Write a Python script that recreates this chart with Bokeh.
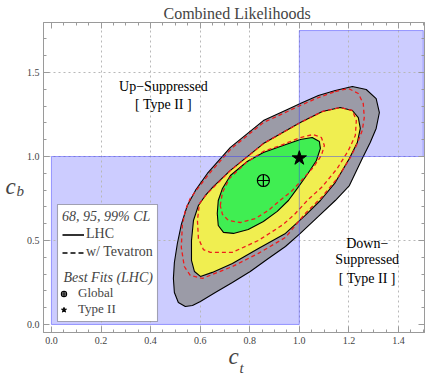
from bokeh.plotting import figure
from bokeh.models import (Range1d, LinearAxis, Label, BoxAnnotation, Legend, LegendItem,
                          SingleIntervalTicker, FixedTicker, PrintfTickFormatter,
                          CustomJSTickFormatter)
from bokeh.embed import file_html
from bokeh.resources import INLINE

SERIF = "Liberation Serif"

# ---------------- data ----------------
lhc99_ct = [0.540, 0.512, 0.496, 0.492, 0.496, 0.508, 0.524, 0.548, 0.581, 0.629, 0.722, 0.855,
            0.952, 1.004, 1.077, 1.145, 1.214, 1.270, 1.310, 1.323, 1.310, 1.286, 1.254, 1.202,
            1.145, 1.077, 1.004, 0.944, 0.875, 0.802, 0.730, 0.661, 0.601, 0.569]
lhc99_cb = [0.107, 0.131, 0.190, 0.274, 0.369, 0.482, 0.595, 0.708, 0.798, 0.899, 1.054, 1.214,
            1.280, 1.315, 1.363, 1.393, 1.417, 1.399, 1.345, 1.262, 1.167, 1.083, 0.988, 0.827,
            0.738, 0.643, 0.542, 0.464, 0.393, 0.315, 0.250, 0.190, 0.137, 0.113]
lhc95_ct = [0.601, 0.577, 0.565, 0.565, 0.573, 0.593, 0.621, 0.653, 0.722, 0.855, 1.004, 1.093,
            1.165, 1.214, 1.238, 1.246, 1.234, 1.202, 1.145, 1.085, 1.024, 0.944, 0.835, 0.730, 0.649]
lhc95_cb = [0.286, 0.315, 0.381, 0.500, 0.619, 0.708, 0.768, 0.821, 0.917, 1.077, 1.202, 1.268,
            1.292, 1.274, 1.232, 1.167, 1.083, 0.988, 0.845, 0.738, 0.649, 0.542, 0.452, 0.363, 0.310]
lhc68_ct = [0.669, 0.673, 0.690, 0.722, 0.790, 0.855, 0.923, 1.004, 1.052, 1.081, 1.085, 1.069,
            1.032, 0.992, 0.956, 0.911, 0.855, 0.794, 0.734, 0.694, 0.673]
lhc68_cb = [0.661, 0.738, 0.810, 0.887, 0.970, 1.024, 1.060, 1.101, 1.113, 1.089, 1.048, 0.976,
            0.893, 0.810, 0.738, 0.673, 0.613, 0.565, 0.542, 0.548, 0.589]
tev68_ct = [0.681, 0.690, 0.718, 0.786, 0.855, 0.923, 1.004, 1.056, 1.089, 1.101, 1.089, 1.056,
            1.016, 0.972, 0.927, 0.875, 0.823, 0.762, 0.714, 0.690]
tev68_cb = [0.708, 0.786, 0.869, 0.964, 1.030, 1.065, 1.113, 1.131, 1.113, 1.065, 1.006, 0.935,
            0.869, 0.798, 0.744, 0.679, 0.631, 0.607, 0.619, 0.655]
tev95_ct = [0.597, 0.625, 0.657, 0.722, 0.855, 1.004, 1.093, 1.165, 1.214, 1.230, 1.226, 1.198,
            1.153, 1.093, 1.036, 0.984, 0.935, 0.835, 0.730, 0.641, 0.613, 0.593, 0.589]
tev95_cb = [0.720, 0.774, 0.821, 0.917, 1.077, 1.202, 1.268, 1.292, 1.274, 1.214, 1.125, 1.036,
            0.929, 0.821, 0.744, 0.661, 0.595, 0.500, 0.429, 0.429, 0.446, 0.512, 0.619]
tev99_ct = [1.145, 1.198, 1.238, 1.258, 1.262, 1.254, 1.230, 1.206, 1.153, 1.093, 1.024, 0.944,
            0.835, 0.730, 0.609, 0.560, 0.536, 0.524, 0.528, 0.540, 0.560, 0.593, 0.637, 0.726,
            0.855, 0.952, 1.004, 1.077]
tev99_cb = [1.387, 1.405, 1.375, 1.315, 1.232, 1.155, 1.065, 0.994, 0.869, 0.762, 0.661, 0.518,
            0.423, 0.345, 0.274, 0.292, 0.345, 0.458, 0.589, 0.679, 0.750, 0.815, 0.899, 1.048,
            1.202, 1.268, 1.304, 1.351]
global_ct = [0.855]
global_cb = [0.857]
type2_ct = [1.0]
type2_cb = [0.99]
region_left = [0.0, 1.0]
region_right = [1.0, 1.5]
region_bottom = [0.0, 1.0]
region_top = [1.0, 1.75]
x_ticks = [0.2, 0.4, 0.6, 0.8, 1.0, 1.2, 1.4]
y_ticks = [0.5, 1.0, 1.5]


def closed(v):
    return list(v) + [v[0]]


p = figure(width=436, height=374, x_range=Range1d(-0.032, 1.505), y_range=Range1d(-0.048, 1.798),
           output_backend="svg", toolbar_location=None,
           min_border_left=43, min_border_right=12, min_border_top=22, min_border_bottom=42)
p.background_fill_color = "white"
p.border_fill_color = "white"
p.outline_line_color = "#9a9a9a"

p.title.text = "Combined Likelihoods"
p.title.align = "left"
p.title.offset = 120
p.title.text_font = SERIF
p.title.text_font_size = "16px"
p.title.text_font_style = "normal"
p.title.standoff = 2

p.xaxis.ticker = SingleIntervalTicker(interval=0.2, num_minor_ticks=4)
p.yaxis.ticker = SingleIntervalTicker(interval=0.5, num_minor_ticks=5)
p.xaxis.formatter = PrintfTickFormatter(format="%.1f")
p.yaxis.formatter = PrintfTickFormatter(format="%.1f")


def style_axis(ax, labels=True):
    ax.axis_line_color = "#9a9a9a"
    ax.major_tick_line_color = "#9a9a9a"
    ax.minor_tick_line_color = "#9a9a9a"
    ax.major_tick_in = 6
    ax.major_tick_out = 0
    ax.minor_tick_in = 3
    ax.minor_tick_out = 0
    ax.major_label_text_font = SERIF
    ax.major_label_text_font_size = "10px"
    ax.major_label_text_color = "#444444"
    ax.major_label_standoff = 4 if labels else 0


style_axis(p.xaxis[0])
style_axis(p.yaxis[0])

ax_top = LinearAxis(ticker=SingleIntervalTicker(interval=0.2, num_minor_ticks=4),
                    formatter=CustomJSTickFormatter(code="return ''"))
ax_right = LinearAxis(ticker=SingleIntervalTicker(interval=0.5, num_minor_ticks=5),
                      formatter=CustomJSTickFormatter(code="return ''"))
style_axis(ax_top, labels=False)
style_axis(ax_right, labels=False)
p.add_layout(ax_top, "above")
p.add_layout(ax_right, "right")

p.xgrid.ticker = FixedTicker(ticks=x_ticks)
p.ygrid.ticker = FixedTicker(ticks=y_ticks)
for g in (p.xgrid, p.ygrid):
    g.grid_line_color = "#b8b8b8"
    g.grid_line_dash = "2 3"
    g.grid_line_width = 1

p.quad(left=region_left, right=region_right, bottom=region_bottom, top=region_top,
       fill_color="#ccccff", line_color=None, level="image")

p.patch(closed(lhc99_ct), closed(lhc99_cb), fill_color="#9b9ba7", line_color="black", line_width=1.1)
p.patch(closed(lhc95_ct), closed(lhc95_cb), fill_color="#f0ee50", line_color="black", line_width=1.1)
p.patch(closed(lhc68_ct), closed(lhc68_cb), fill_color="#40ee52", line_color="black", line_width=1.1)

for cx, cy in ((tev99_ct, tev99_cb), (tev95_ct, tev95_cb), (tev68_ct, tev68_cb)):
    p.line(closed(cx), closed(cy), line_color="#ee1c1c", line_dash="4 3", line_width=1.3)

p.quad(left=region_left, right=region_right, bottom=region_bottom, top=region_top,
       fill_alpha=0, line_color="#3333ff", line_alpha=0.45, line_width=1)

r_global = p.scatter(global_ct, global_cb, marker="circle_cross", size=12,
                     fill_color=None, line_color="black", line_width=1.2)
r_type2 = p.scatter(type2_ct, type2_cb, marker="star", size=15,
                    fill_color="black", line_color="black")

nan = float("nan")
r_solid = p.line([nan], [nan], line_color="black", line_width=1.6)
r_dash = p.line([nan], [nan], line_color="black", line_width=1.6, line_dash="5 3")

p.add_layout(BoxAnnotation(left=14, right=114, bottom=11, top=128,
                           left_units="screen", right_units="screen",
                           bottom_units="screen", top_units="screen",
                           fill_color="white", fill_alpha=1, line_color="black", line_width=1.1))


def style_legend(lg, gw, standoff, title_standoff, spacing, size):
    lg.border_line_color = None
    lg.background_fill_alpha = 0
    lg.label_text_font = SERIF
    lg.label_text_font_size = size
    lg.title_text_font = SERIF
    lg.title_text_font_style = "italic"
    lg.title_text_font_size = "14px"
    lg.glyph_width = gw
    lg.glyph_height = 13
    lg.label_height = 13
    lg.label_standoff = standoff
    lg.spacing = spacing
    lg.padding = 0
    lg.margin = 0
    lg.title_standoff = title_standoff


leg1 = Legend(items=[LegendItem(label="LHC", renderers=[r_solid]),
                     LegendItem(label="w/ Tevatron", renderers=[r_dash])],
              title="68, 95, 99% CL", location=(19, 72))
leg2 = Legend(items=[LegendItem(label="Global", renderers=[r_global]),
                     LegendItem(label="Type II", renderers=[r_type2])],
              location=(14, 15))
style_legend(leg1, 22, 2, 1, 2, "14px")
style_legend(leg2, 13, 8, 0, 0, "13px")
p.add_layout(leg1)
p.add_layout(leg2)

# heading of the best-fit block inside the legend frame
p.add_layout(Label(x=20, y=55, x_units="screen", y_units="screen", text="Best Fits (LHC)",
                   text_align="left", text_baseline="alphabetic", text_font=SERIF,
                   text_font_style="italic", text_font_size="14px"))

# axis labels live in side panels (annotations in the centre are clipped to the frame)
p.add_layout(Label(x=190, y=3, x_units="screen", y_units="screen", text="c",
                   text_align="center", text_baseline="bottom", text_font=SERIF,
                   text_font_style="italic", text_font_size="23px"), "below")
p.add_layout(Label(x=-185, y=-35, x_units="screen", y_units="screen", text="t",
                   text_align="left", text_baseline="alphabetic", text_font=SERIF,
                   text_font_style="italic", text_font_size="15px"), "right")
p.add_layout(Label(x=-3, y=146, x_units="screen", y_units="screen", text="c",
                   text_align="center", text_baseline="alphabetic", text_font=SERIF,
                   text_font_style="italic", text_font_size="23px"), "left")
p.add_layout(Label(x=11, y=142, x_units="screen", y_units="screen", text="b",
                   text_align="left", text_baseline="alphabetic", text_font=SERIF,
                   text_font_style="italic", text_font_size="15px"), "left")

# region annotations
for txt, yy in (("Up\u2212Suppressed", 1.417), ("[ Type II ]", 1.31)):
    p.add_layout(Label(x=0.452, y=yy, text=txt, text_align="center", text_baseline="alphabetic",
                       text_font=SERIF, text_font_size="14px", text_color="black"))
for txt, yy in (("Down\u2212", 0.482), ("Suppressed", 0.387), ("[ Type II ]", 0.274)):
    p.add_layout(Label(x=1.274, y=yy, text=txt, text_align="center", text_baseline="alphabetic",
                       text_font=SERIF, text_font_size="14px", text_color="black"))

open("out.html", "w").write(file_html(p, INLINE))
